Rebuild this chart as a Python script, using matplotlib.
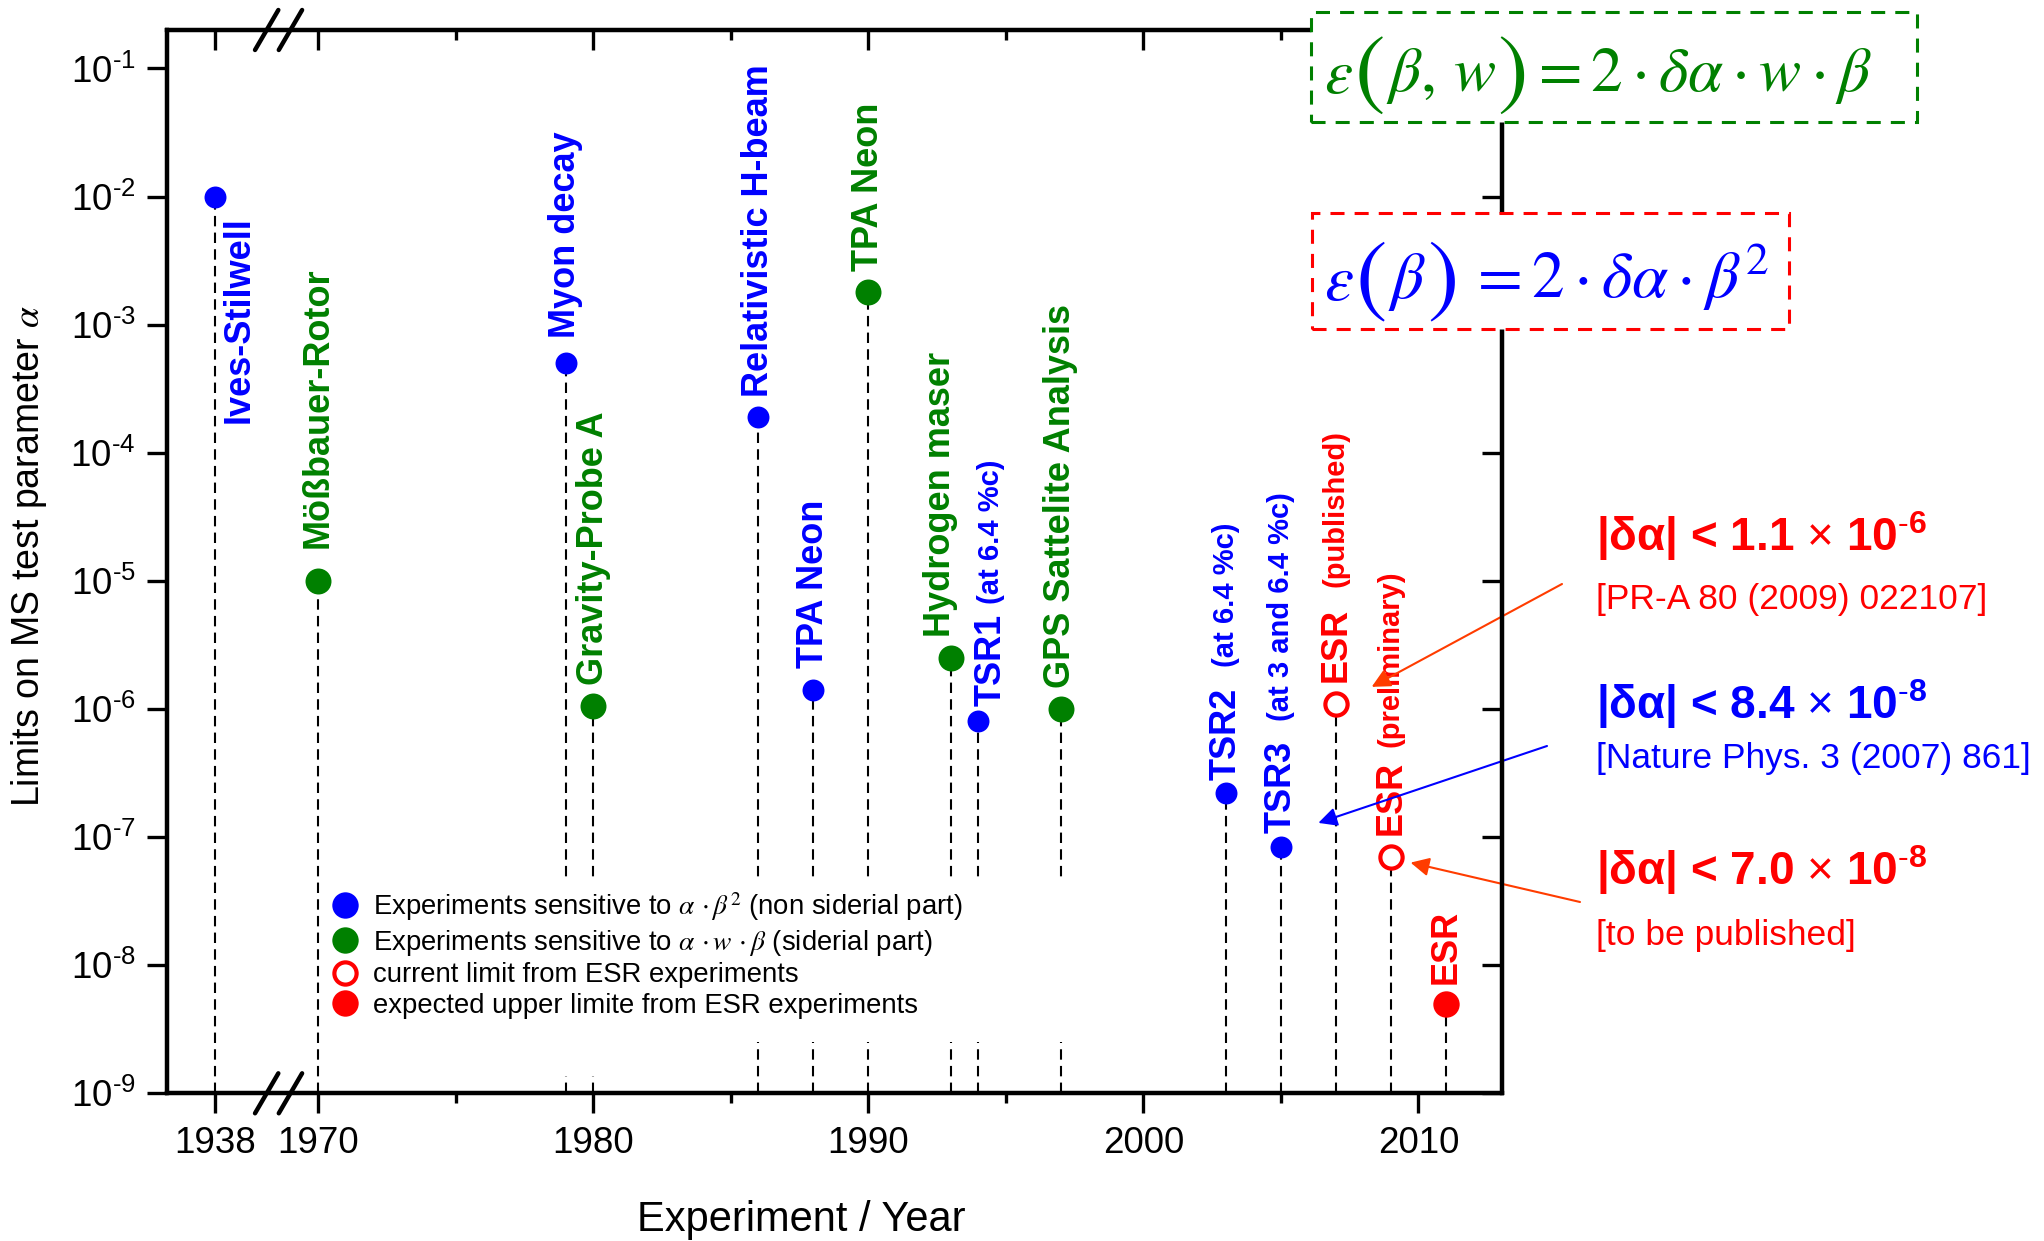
import numpy as np
import matplotlib
matplotlib.use("Agg")
import matplotlib.pyplot as plt
from matplotlib.lines import Line2D
from matplotlib.patches import Rectangle
from matplotlib.text import Annotation
from matplotlib.ticker import (FixedLocator, NullLocator, LogLocator, NullFormatter,
                               StrMethodFormatter, FuncFormatter)
from matplotlib.transforms import offset_copy

plt.rcParams['font.family'] = ['Liberation Sans', 'DejaVu Sans']
plt.rcParams['mathtext.fontset'] = 'custom'
plt.rcParams['mathtext.rm'] = 'Liberation Sans'
plt.rcParams['mathtext.it'] = 'Liberation Sans:italic'
plt.rcParams['mathtext.bf'] = 'Liberation Sans:bold'
plt.rcParams['axes.unicode_minus'] = False

# ---------------------------------------------------------------- data
years = [1938, 1970, 1979, 1980, 1986, 1988, 1990, 1993, 1994, 1997,
         2003, 2005, 2007, 2009, 2011]
limits = [1e-2, 1e-5, 5e-4, 1.05e-6, 1.9e-4, 1.4e-6, 1.8e-3, 2.5e-6, 8e-7, 1e-6,
          2.2e-7, 8.4e-8, 1.1e-6, 7.0e-8, 5e-9]
kinds = ['beta2', 'wbeta', 'beta2', 'wbeta', 'beta2', 'beta2', 'wbeta', 'wbeta',
         'beta2', 'wbeta', 'beta2', 'beta2', 'esr_current', 'esr_current', 'esr_expected']
names = ['Ives-Stilwell', 'Mößbauer-Rotor', 'Myon decay', 'Gravity-Probe A',
         'Relativistic H-beam', 'TPA Neon', 'TPA Neon', 'Hydrogen maser', 'TSR1',
         'GPS Sattelite Analysis', 'TSR2', 'TSR3', 'ESR', 'ESR', 'ESR']
notes = ['', '', '', '', '', '', '', '', '(at 6.4 %c)', '', '(at 6.4 %c)',
         '(at 3 and 6.4 %c)', '(published)', '(preliminary)', '']

major_years = [1938, 1970, 1980, 1990, 2000, 2010]
minor_years = [1975, 1985, 1995, 2005]

legend_labels = [
    r'Experiments sensitive to $\alpha\,\cdot\beta^{2}$ (non siderial part)',
    r'Experiments sensitive to $\alpha\,\cdot w\,\cdot\beta$ (siderial part)',
    'current limit from ESR experiments',
    'expected upper limite from ESR experiments',
]

# results quoted at the right, each pointing to one ESR/TSR entry
result_marks = [12, 11, 13]
result_heads = [r'|δα| < 1.1 $\times$ 10$^{\mathbf{\text{-}6}}$',
                r'|δα| < 8.4 $\times$ 10$^{\mathbf{\text{-}8}}$',
                r'|δα| < 7.0 $\times$ 10$^{\mathbf{\text{-}8}}$']
result_refs = ['[PR-A 80 (2009) 022107]', '[Nature Phys. 3 (2007) 861]',
               '[to be published]']

# ---------------------------------------------------------------- styles
BLUE, GREEN, RED, ARROW_RED = '#0000ff', '#008000', '#ff0000', '#ff3c00'
kind_style = {
    'beta2': dict(color=BLUE, ms=15.8, mfc=BLUE, mec=BLUE, mew=0),
    'wbeta': dict(color=GREEN, ms=18.7, mfc=GREEN, mec=GREEN, mew=0),
    'esr_current': dict(color=RED, ms=16.0, mfc='white', mec=RED, mew=3.0),
    'esr_expected': dict(color=RED, ms=19.0, mfc=RED, mec=RED, mew=0),
}
result_colors = [RED, BLUE, RED]
arrow_colors = [ARROW_RED, BLUE, ARROW_RED]

# broken year axis: 1938 is squeezed in just left of 1970
BRK_YEARS = [1900.0, 1940.0, 1970.0, 2100.0]
BRK_POS = [1928.244, 1968.244, 1970.0, 2100.0]


def fwd(x):
    return np.interp(x, BRK_YEARS, BRK_POS)


def inv(p):
    return np.interp(p, BRK_POS, BRK_YEARS)


def decade_label(v, _pos):
    n = int(round(np.log10(v)))
    if n < 0:
        return r'$\mathdefault{10^{\text{-}%d}}$' % (-n)
    return r'$\mathdefault{10^{%d}}$' % n


W, H, DPI = 2044, 1241, 100
fig = plt.figure(figsize=(W / DPI, H / DPI), dpi=DPI)
ax = fig.add_axes([0.08155, 0.11902, 0.65313, 0.85681])

ax.set_xscale('function', functions=(fwd, inv))
ax.set_yscale('log')
XLIM = (1936.25, 2013.03)
YLIM = (1e-9, 10 ** -0.70)
ax.set_xlim(*XLIM)
ax.set_ylim(*YLIM)

SPINE_LW = 3.0
TICK_KW = dict(width=2.4)

# mirrored axes for the inward ticks on top and right
ax_top = ax.twiny()
ax_top.set_xscale('function', functions=(fwd, inv))
ax_top.set_xlim(*XLIM)
ax_right = ax.twinx()
ax_right.set_yscale('log')
ax_right.set_ylim(*YLIM)

for a in (ax, ax_top):
    a.xaxis.set_major_locator(FixedLocator(major_years))
    a.xaxis.set_minor_locator(FixedLocator(minor_years))
    a.xaxis.set_minor_formatter(NullFormatter())
for a in (ax, ax_right):
    a.yaxis.set_major_locator(LogLocator(base=10, numticks=20))
    a.yaxis.set_minor_locator(NullLocator())

ax.xaxis.set_major_formatter(StrMethodFormatter('{x:.0f}'))
ax.yaxis.set_major_formatter(FuncFormatter(decade_label))
ax.tick_params(axis='x', which='major', direction='out', length=14.4, pad=9,
               labelsize=26.5, **TICK_KW)
ax.tick_params(axis='x', which='minor', direction='out', length=7, **TICK_KW)
ax.tick_params(axis='y', which='major', direction='out', length=14.4, pad=8,
               labelsize=26.5, **TICK_KW)
ax_top.tick_params(axis='x', which='major', direction='in', length=14.4,
                   labeltop=False, **TICK_KW)
ax_top.tick_params(axis='x', which='minor', direction='in', length=7, **TICK_KW)
ax_right.tick_params(axis='y', which='major', direction='in', length=14.4,
                     labelright=False, **TICK_KW)
for a in (ax, ax_top, ax_right):
    for s in a.spines.values():
        s.set_linewidth(SPINE_LW)

# axis-break marks on bottom and top spine
for yb in (0.0, 1.0):
    for xc in (0.0749, 0.0927):
        ax.plot([xc - 0.00873, xc + 0.00873], [yb - 0.0188, yb + 0.0188],
                transform=ax.transAxes, clip_on=False, color='black', lw=3.2,
                solid_capstyle='round', zorder=10)

# ---------------------------------------------------------------- drop lines + markers
ax.vlines(years, YLIM[0], limits, colors='black', linestyles=(0, (5, 3)),
          lw=1.5, zorder=2)

for kind, st in kind_style.items():
    xs = [x for x, k in zip(years, kinds) if k == kind]
    ys = [y for y, k in zip(limits, kinds) if k == kind]
    ax.plot(xs, ys, ls='none', marker='o', ms=st['ms'], mfc=st['mfc'],
            mec=st['mec'], mew=st['mew'], zorder=5, clip_on=False)

# ---------------------------------------------------------------- point labels
gap_pt = [0, 23.5, 18.5, 15.5, 14.5, 16, 15, 15, 11, 15, 9.6, 10, 15.5, 15.5, 14]
shift_pt = {7: -7.5, 8: 9.5}
note_gap_pt = {8: 7, 10: 15, 11: 14, 12: 15, 13: 10}
for i, (x, y, name, note, kind) in enumerate(zip(years, limits, names, notes, kinds)):
    col = kind_style[kind]['color']
    if i == 0:
        main = ax.annotate(name, (x, y), xytext=(17.3, -13.9),
                           textcoords='offset points', rotation=90, ha='center',
                           va='top', color=col, fontsize=26, fontweight='bold',
                           zorder=6)
    else:
        main = ax.annotate(name, (x, y), xytext=(shift_pt.get(i, 0), gap_pt[i]),
                           textcoords='offset points', rotation=90, ha='center',
                           va='bottom', color=col, fontsize=26, fontweight='bold',
                           zorder=6)
    if note:
        ax.annotate(note, (0.5, 1.0), xycoords=main,
                    xytext=(0, note_gap_pt.get(i, 14)), textcoords='offset points',
                    rotation=90, ha='center', va='bottom', color=col,
                    fontsize=21, fontweight='bold', zorder=6)

# ---------------------------------------------------------------- legend
ax.add_patch(Rectangle((0.1186, 0.0482), 0.5614, 0.1505, transform=ax.transAxes,
                       fc='white', ec='none', zorder=3))
ax.add_patch(Rectangle((0.1186, 0.0163), 0.2660, 0.1824, transform=ax.transAxes,
                       fc='white', ec='none', zorder=3))
handles = [Line2D([], [], ls='none', marker='o', ms=19, mfc=BLUE, mec=BLUE, mew=0),
           Line2D([], [], ls='none', marker='o', ms=19, mfc=GREEN, mec=GREEN, mew=0),
           Line2D([], [], ls='none', marker='o', ms=16, mfc='white', mec=RED, mew=3),
           Line2D([], [], ls='none', marker='o', ms=19, mfc=RED, mec=RED, mew=0)]
leg = ax.legend(handles, legend_labels, loc='upper left',
                bbox_to_anchor=(0.1235, 0.1912), frameon=False, fontsize=19.8,
                handlelength=1.0, handletextpad=0.5, labelspacing=0.17,
                borderpad=0, borderaxespad=0)
leg.set_zorder(6)
for t in leg.get_texts():
    t.set_math_fontfamily('stix')

# ---------------------------------------------------------------- axis titles
ax.set_ylabel(r'Limits on MS test parameter $\alpha$', fontsize=27)
ax.yaxis.label.set_math_fontfamily('stix')
ax.yaxis.set_label_coords(-0.0878, 0.505)
ax.set_xlabel('Experiment / Year', fontsize=30)
ax.xaxis.set_label_coords(0.4751, -0.1003)

# ---------------------------------------------------------------- quoted results + arrows
head_y = [0.5562, 0.4204, 0.2869]
ref_y = [0.5090, 0.3809, 0.2385]
for head, ref, hy, ry, col in zip(result_heads, result_refs, head_y, ref_y, result_colors):
    fig.text(0.7808, hy, head, ha='left', va='baseline', color=col,
             fontsize=33, fontweight='bold')
    fig.text(0.7808, ry, ref, ha='left', va='baseline', color=col, fontsize=25.5)

tip_offsets_pt = [(25.8, 12.1), (27.0, 17.2), (14.2, -4.1)]
tail_px = [(1562, H - 584), (1547, H - 746), (1580, H - 902)]
for idx, (dx, dy), tail, col in zip(result_marks, tip_offsets_pt, tail_px, arrow_colors):
    tip_tr = offset_copy(ax.transData, fig=fig, x=dx, y=dy, units='points')
    ax.annotate('', xy=(years[idx], limits[idx]), xycoords=tip_tr,
                xytext=tail, textcoords='figure pixels', annotation_clip=False,
                arrowprops=dict(arrowstyle='-|>', color=col, lw=1.5,
                                mutation_scale=28, shrinkA=0, shrinkB=0),
                zorder=7)

# ---------------------------------------------------------------- formula boxes
fig.add_artist(Rectangle((0.6413, 0.9019), 0.2965, 0.0886, transform=fig.transFigure,
                         fc='white', ec=GREEN, lw=2.2, ls=(0, (4.6, 3.3)), zorder=5))
fig.add_artist(Rectangle((0.6421, 0.7346), 0.2329, 0.0940, transform=fig.transFigure,
                         fc='white', ec=RED, lw=2.2, ls=(0, (4.6, 3.3)), zorder=5))


def formula(x, y, pieces, color, size=47, paren_size=68):
    """Lay out a formula piece by piece so the brackets can be drawn tall."""
    first = fig.text(x, y, pieces[0], ha='left', va='baseline', color=color,
                     fontsize=size, math_fontfamily='stix', zorder=6)
    prev = first
    for p in pieces[1:]:
        if p in ('(', ')'):
            art = Annotation(p, xy=(1, 0.5), xycoords=(prev, first),
                             xytext=(1, 0), textcoords='offset points',
                             ha='left', va='center', color=color,
                             fontsize=paren_size, family='STIXGeneral',
                             annotation_clip=False)
        else:
            art = Annotation(p, xy=(1, 0), xycoords=(prev, first),
                             xytext=(1, 0), textcoords='offset points',
                             ha='left', va='bottom', color=color, fontsize=size,
                             math_fontfamily='stix', annotation_clip=False)
        art.set_zorder(6)
        fig.add_artist(art)
        prev = art


formula(0.6477, 0.9248,
        [r'$\varepsilon$', '(', r'$\beta,\, w$', ')',
         r'$= 2\cdot\delta\alpha\cdot w\cdot\beta$'], GREEN, size=45.5, paren_size=66)
formula(0.6477, 0.7583,
        [r'$\varepsilon$', '(', r'$\beta$', ')',
         r'$\,= 2\cdot\delta\alpha\cdot\beta^{2}$'], BLUE)

fig.savefig('out.png', dpi=DPI, facecolor='white')
